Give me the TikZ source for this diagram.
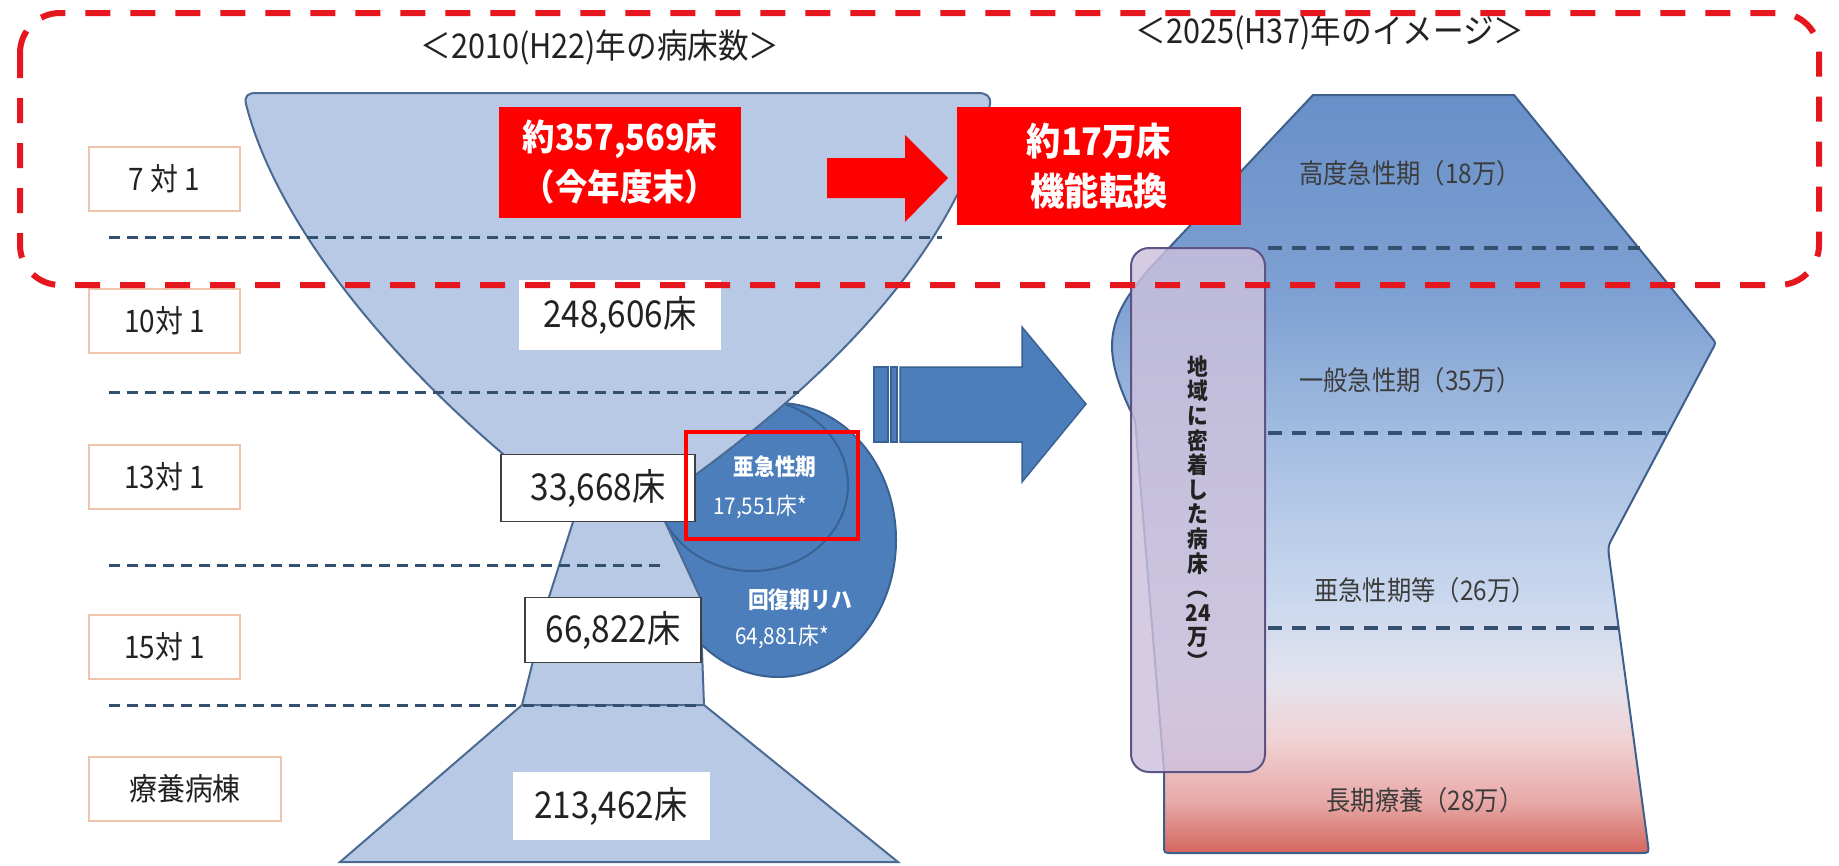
\documentclass[tikz,border=0pt]{standalone}
\usepackage{fontspec}
\setmainfont[FakeStretch=0.9]{Noto Sans CJK JP}
\usetikzlibrary{arrows.meta}
\definecolor{bowlfill}{HTML}{B7C9E4}
\definecolor{bowledge}{HTML}{4A6A93}
\definecolor{circfill}{HTML}{4D7EBC}
\definecolor{circedge}{HTML}{3A6193}
\definecolor{navy}{HTML}{34506F}
\definecolor{redd}{HTML}{E5161E}
\definecolor{boxred}{HTML}{FF0000}
\definecolor{labelborder}{HTML}{F0C4AC}
\definecolor{txt}{HTML}{222222}
\definecolor{rtxt}{HTML}{3C3C3C}
\definecolor{purplefill}{HTML}{CCC0DC}
\definecolor{purpleedge}{HTML}{5E5484}
\definecolor{redge}{HTML}{3E5F8A}
\definecolor{cA}{HTML}{6890C8}
\definecolor{cB}{HTML}{7FA1D3}
\definecolor{cC}{HTML}{A6BFE2}
\definecolor{cD}{HTML}{CAD8EE}
\definecolor{cE}{HTML}{E4E3EE}
\definecolor{cF}{HTML}{F0D2D4}
\definecolor{cG}{HTML}{E8ABA9}
\definecolor{cH}{HTML}{D4655F}
\pgfdeclareverticalshading{rshade}{100bp}{color(0bp)=(cH); color(25bp)=(cH); color(28.5bp)=(cG); color(32.5bp)=(cF); color(36.4bp)=(cE); color(41.7bp)=(cD); color(51.6bp)=(cC); color(61.5bp)=(cB); color(75bp)=(cA); color(100bp)=(cA)}
\tikzset{
  bowl/.style={fill=bowlfill, draw=bowledge, line width=2},
  lbl/.style={draw=labelborder, fill=white, line width=1.5, minimum width=151, minimum height=64, inner sep=0, font=\fontsize{31}{32}\selectfont, text=txt},
  numbox/.style={fill=white, inner sep=0, font=\fontsize{37}{38}\selectfont, text=txt},
  numboxb/.style={numbox, draw=black!75, line width=1.5},
  ldash/.style={draw=navy, line width=3, dash pattern=on 11 off 7},
  rdash/.style={draw=navy, line width=3.5, dash pattern=on 14 off 10},
  redbox/.style={fill=boxred, text=white, inner sep=0, align=center},
  circtxt/.style={text=white, font=\fontsize{23}{25}\selectfont},
  rlabel/.style={text=rtxt, font=\fontsize{27}{30}\selectfont},
  titletxt/.style={text=txt, font=\fontsize{34}{36}\selectfont},
  bluearrow/.style={fill=circfill, draw=circedge, line width=1.5},
}
\begin{document}
\begin{tikzpicture}[x=1pt,y=-1pt]
\useasboundingbox (0,0) rectangle (1839,865);
\fill[white] (0,0) rectangle (1839,865);

% circle (recovery rehab) and inner ellipse
\draw[fill=circfill, draw=circedge, line width=2] (778,540) ellipse [x radius=118, y radius=137];
\draw[draw=circedge, line width=2] (752,485) ellipse [x radius=96, y radius=86];

% hourglass shapes
\draw[bowl] (560,500) .. controls (390,370) and (275,220) .. (246,104)
  .. controls (244,96) and (248,93) .. (256,93) -- (978,93)
  .. controls (986,93) and (991,96) .. (990,104)
  .. controls (965,220) and (870,355) .. (660,500) -- cycle;
\draw[bowl] (580,500) -- (655,500) -- (700,597) -- (704,705) -- (522,705) -- (549,597) -- cycle;
\draw[bowl] (522,705) -- (704,705) -- (898,862) -- (340,862) -- cycle;

% left dashed separators
\draw[ldash] (109,237) -- (942,237);
\draw[ldash] (109,392) -- (799,392);
\draw[ldash] (109,565) -- (665,565);
\draw[ldash] (109,705) -- (702,705);

% left labels
\node[lbl] (l7) at (164.5,179) {7 対 1};
\node[lbl] (l10) at (164.5,321) {10対 1};
\node[lbl] (l13) at (164.5,477) {13対 1};
\node[lbl] (l15) at (164.5,647) {15対 1};
\node[lbl, minimum width=192] (l16) at (185,789) {療養病棟};

% number boxes
\node[numbox, minimum width=202, minimum height=70] (n1) at (620,315) {248,606床};
\node[numboxb, minimum width=194, minimum height=67] (n2) at (598,488) {33,668床};
\node[numboxb, minimum width=176, minimum height=65] (n3) at (613,630) {66,822床};
\node[numbox, minimum width=197, minimum height=68] (n4) at (611,806) {213,462床};

% circle texts
\node[circtxt, font=\bfseries\fontsize{23}{25}\selectfont] (c1) at (775,467) {亜急性期};
\node[circtxt] (c2) at (760,507) {17,551床*};
\node[circtxt, font=\bfseries\fontsize{23}{25}\selectfont] (c3) at (800,600) {回復期リハ};
\node[circtxt] (c4) at (782,637) {64,881床*};
\node[draw=red, line width=3.5, minimum width=172, minimum height=107, inner sep=0] (rr) at (772,485.5) {};

% big blue arrow
\draw[bluearrow] (874,367) rectangle (888,442);
\draw[bluearrow] (891,367) rectangle (897,442);
\draw[bluearrow] (900,367) -- (1022,367) -- (1022,327) -- (1086,404) -- (1022,482) -- (1022,442) -- (900,442) -- cycle;

% right shape
\shadedraw[shading=rshade, draw=redge, line width=2]
  (1313,95) -- (1514,95) -- (1712,338) .. controls (1716,343) .. (1712,350)
  -- (1614,535) .. controls (1608,546) .. (1609,556)
  -- (1648,845) .. controls (1649,853) .. (1640,853)
  -- (1172,853) .. controls (1164,853) .. (1164,845)
  -- (1164,770) -- (1135,420) .. controls (1100,350) and (1105,320) .. (1150,268) -- cycle;
\draw[rdash] (1268,248) -- (1640,248);
\draw[rdash] (1268,433) -- (1666,433);
\draw[rdash] (1268,628) -- (1620,628);

\node[rlabel] (r1) at (1410,173) {高度急性期（18万）};
\node[rlabel] (r2) at (1410,380) {一般急性期（35万）};
\node[rlabel] (r3) at (1425,590) {亜急性期等（26万）};
\node[rlabel] (r4) at (1425,800) {長期療養（28万）};

% purple community box
\node[draw=purpleedge, fill=purplefill, fill opacity=0.82, line width=2, rounded corners=18, minimum width=134, minimum height=524, inner sep=0] (pb) at (1198,510) {};
\node[text=txt, align=center, inner sep=0, font=\bfseries\fontsize{23}{24.6}\selectfont] (pt) at (1198,513)
  {地\\域\\に\\密\\着\\し\\た\\病\\床\\︵\\24\\万\\︶};

% red boxes and red arrow
\node[redbox, minimum width=242, minimum height=111, font=\bfseries\fontsize{36}{50}\selectfont] (rb1) at (620,162) {約357,569床\\（今年度末）};
\node[redbox, minimum width=284, minimum height=118, font=\bfseries\fontsize{38}{50}\selectfont] (rb2) at (1099,166) {約17万床\\機能転換};
\fill[boxred] (827,158) -- (905,158) -- (905,135) -- (948,178) -- (905,222) -- (905,198) -- (827,198) -- cycle;

% titles
\node[titletxt] (t1) at (600,47) {＜2010(H22)年の病床数＞};
\node[titletxt] (t2) at (1330,32) {＜2025(H37)年のイメージ＞};

% red dashed frame
\draw[draw=redd, line width=6, dash pattern=on 25 off 20, rounded corners=40] (20,13) rectangle (1819,285);
\end{tikzpicture}
\end{document}
